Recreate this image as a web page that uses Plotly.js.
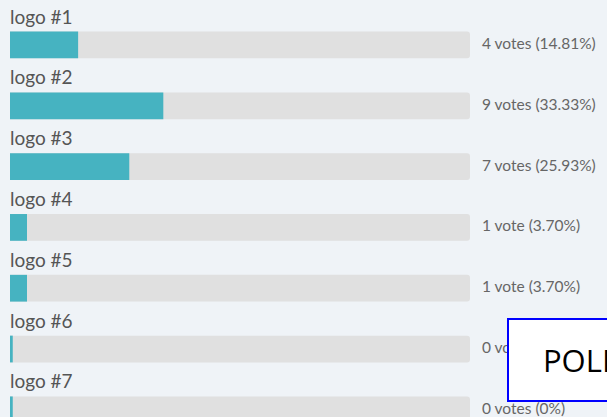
<!DOCTYPE html>
<html>
<head>
<meta charset="utf-8">
<script src="https://cdn.plot.ly/plotly-3.0.1.min.js"></script>
<style>
html,body{margin:0;padding:0;background:#eff3f7;}
#chart{width:607px;height:417px;}
</style>
</head>
<body>
<div id="chart"></div>
<script>
const categories = ["logo #1", "logo #2", "logo #3", "logo #4", "logo #5", "logo #6", "logo #7"];
const votes = [4, 9, 7, 1, 1, 0, 0];
const percents = [14.81, 33.33, 25.93, 3.70, 3.70, 0, 0];
const voteLabels = ["4 votes (14.81%)", "9 votes (33.33%)", "7 votes (25.93%)", "1 vote (3.70%)", "1 vote (3.70%)", "0 votes (0%)", "0 votes (0%)"];
const overlayText = "POLL";

const pos = categories.map((_, i) => i);
const minVisible = 0.6; // sliver (in %) drawn for zero-vote rows

const W = 607, H = 417, L = 10, R = 137;
const plotW = W - L - R;

const track = {
  type: 'bar', orientation: 'h',
  x: categories.map(() => 100), y: pos,
  width: 0.44,
  marker: {color: '#e0e0e0', cornerradius: 3},
  hoverinfo: 'skip', showlegend: false
};
const fill = {
  type: 'bar', orientation: 'h',
  x: percents.map(v => Math.max(v, minVisible)), y: pos,
  width: 0.44,
  marker: {color: '#46b3c1', cornerradius: 3},
  hoverinfo: 'skip', showlegend: false
};

const annotations = [];
categories.forEach((c, i) => {
  annotations.push({
    xref: 'x', yref: 'y', x: 0, y: i, xanchor: 'left', yanchor: 'middle',
    yshift: 29, xshift: -2, showarrow: false, text: c,
    font: {family: 'Lato, sans-serif', size: 19, color: '#555555'}
  });
  annotations.push({
    xref: 'x', yref: 'y', x: 100, y: i, xanchor: 'left', yanchor: 'middle',
    xshift: 10, yshift: 2, showarrow: false, text: voteLabels[i],
    font: {family: 'Lato, sans-serif', size: 15.5, color: '#666666'}
  });
});

const px = p => (p - L) / plotW;
const py = p => 1 - p / H;

// overlay box with its text, drawn last so it covers the labels beneath
annotations.push({
  xref: 'paper', yref: 'paper', x: px(507), y: py(318), xanchor: 'left', yanchor: 'top',
  showarrow: false, text: overlayText, align: 'center', valign: 'middle',
  width: 143, height: 80, borderpad: 0,
  bgcolor: '#ffffff', bordercolor: '#0000ff', borderwidth: 2,
  font: {family: 'Open Sans, sans-serif', size: 31, color: '#000000'}
});

const layout = {
  width: W, height: H,
  margin: {l: L, r: R, t: 0, b: 0, pad: 0},
  paper_bgcolor: '#eff3f7', plot_bgcolor: '#eff3f7',
  barmode: 'overlay',
  xaxis: {range: [0, 100], visible: false, fixedrange: true},
  yaxis: {range: [6.118, -0.74], visible: false, fixedrange: true},
  annotations: annotations
};

Plotly.newPlot('chart', [track, fill], layout, {displayModeBar: false, staticPlot: true});
</script>
</body>
</html>
